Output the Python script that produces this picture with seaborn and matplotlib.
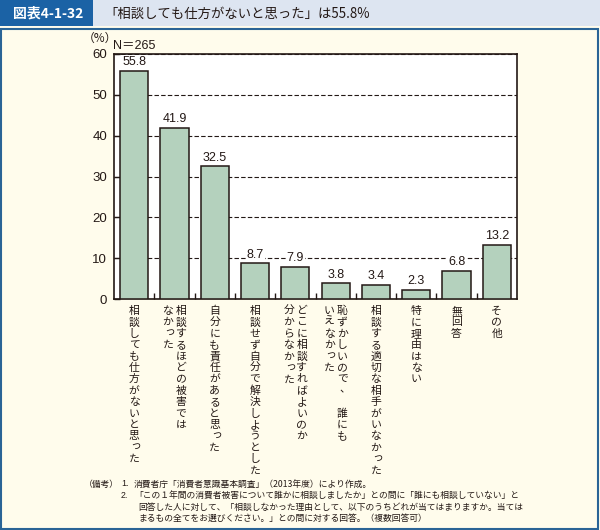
import matplotlib
matplotlib.use("Agg")
import matplotlib.pyplot as plt
import seaborn as sns
import pandas as pd
import numpy as np
from matplotlib.patches import Rectangle
from matplotlib import transforms

# ---- data ----
categories = [
    "相談しても仕方がないと思った",
    "相談するほどの被害では\nなかった",
    "自分にも責任があると思った",
    "相談せず自分で解決しようとした",
    "どこに相談すればよいのか\n分からなかった",
    "恥ずかしいので、　誰にも\nいえなかった",
    "相談する適切な相手がいなかった",
    "特に理由はない",
    "無回答",
    "その他",
]
values = [55.8, 41.9, 32.5, 8.7, 7.9, 3.8, 3.4, 2.3, 6.8, 13.2]
y_ticks = [0, 10, 20, 30, 40, 50, 60]
badge_text = "図表4-1-32"
title_text = "「相談しても仕方がないと思った」は55.8%"
n_text = "N＝265"
unit_text = "（%）"
note_head = "（備考）"
note_nums = ["1.", "2."]
note_lines = [
    "消費者庁「消費者意識基本調査」（2013年度）により作成。",
    "「この１年間の消費者被害について誰かに相談しましたか」との問に「誰にも相談していない」と",
    "回答した人に対して、「相談しなかった理由として、以下のうちどれが当てはまりますか。当ては",
    "まるもの全てをお選びください。」との問に対する回答。（複数回答可）",
]

# ---- style ----
sns.set_theme(style="white")
plt.rcParams['font.family'] = ['Liberation Sans', 'Noto Sans CJK JP', 'DejaVu Sans']
INK = '#231815'
CREAM = '#fffcec'
W, H = 600, 530

fig = plt.figure(figsize=(6, 5.3), dpi=100, facecolor=CREAM)

# header band + badge
fig.patches.append(Rectangle((0, 1 - 26 / H), 1, 26 / H, transform=fig.transFigure,
                             facecolor='#dde5f1', edgecolor='none', zorder=0))
fig.patches.append(Rectangle((0, 1 - 26 / H), 93 / W, 26 / H, transform=fig.transFigure,
                             facecolor='#1b62a5', edgecolor='none', zorder=1))
fig.patches.append(Rectangle((1 / W, 1.5 / H), 597 / W, (528 - 27) / H - 1 / H,
                             transform=fig.transFigure, facecolor='none',
                             edgecolor='#2a6496', lw=1.5, zorder=2))
fig.text(13 / W, 1 - 13.5 / H, badge_text, color='white', fontsize=10, fontweight='bold',
         ha='left', va='center', family=['Noto Sans CJK JP'])
fig.text(104 / W, 1 - 13.5 / H, title_text, color=INK, fontsize=9.6,
         ha='left', va='center', family=['Noto Sans CJK JP'])

# axes
ax = fig.add_axes([114 / W, 1 - 299 / H, 403 / W, 245 / H])
ax.set_facecolor('white')
df = pd.DataFrame({'cat': categories, 'val': values})
sns.barplot(data=df, x='cat', y='val', ax=ax, color='#b4d1bd', saturation=1,
            edgecolor=INK, linewidth=1.1, width=0.7, zorder=3)
ax.set_xlim(-0.5, len(categories) - 0.5)
ax.set_ylim(0, 60)
ax.set_yticks(y_ticks)
ax.set_xticks([])
ax.set_xticks(np.arange(len(categories) - 1) + 0.5, minor=True)
ax.set_xlabel('')
ax.set_ylabel('')
ax.tick_params(axis='x', which='minor', direction='in', length=4.5, width=1.0,
               color=INK, bottom=True, top=False)
ax.tick_params(axis='y', which='major', direction='in', length=4, width=1.0,
               color=INK, left=True, labelsize=9.5, labelcolor=INK, pad=5)
ax.yaxis.grid(True, linestyle=(0, (4, 2)), color=INK, lw=0.8)
ax.xaxis.grid(False)
ax.set_axisbelow(True)
for s in ax.spines.values():
    s.set_visible(True)
    s.set_color(INK)
    s.set_linewidth(1.2)

texts = ax.bar_label(ax.containers[0], labels=[f"{v:.1f}" for v in values], padding=2,
                     fontsize=9, color=INK)
for t in texts:
    t.set_bbox(dict(facecolor='white', edgecolor='none', pad=0.6))

# vertical category labels
small = set("っゃゅょぁぃぅぇぉ")
step = 11.4
for i, lab in enumerate(categories):
    cols = lab.split("\n")
    offs = [0.0] if len(cols) == 1 else [6.5, -6.5]
    for col, cx in zip(cols, offs):
        for j, ch in enumerate(col):
            if ch.isspace():
                continue
            dx, dy = cx, 12 + j * step
            if ch in small:
                dx += 1.5
                dy -= 1.5
            elif ch in "、。":
                dx += 3.0
                dy -= 1.5
            tr = transforms.offset_copy(ax.get_xaxis_transform(), fig=fig,
                                        x=dx, y=-dy, units='dots')
            ax.text(i, 0, ch, transform=tr, ha='center', va='center', fontsize=7.8,
                    color=INK, family=['Noto Sans CJK JP'], clip_on=False)

# unit and N
fig.text(100 / W, 1 - 38 / H, unit_text, fontsize=8.5, color=INK, ha='center', va='center',
         family=['Noto Sans CJK JP'])
fig.text(113 / W, 1 - 46 / H, n_text, fontsize=9, color=INK, ha='left', va='center',
         family=['Liberation Sans', 'Noto Sans CJK JP'])

# notes
fs = 6.3
fig.text(84 / W, 1 - 484 / H, note_head, fontsize=fs, color=INK, ha='left', va='center',
         family=['Noto Sans CJK JP'])
fig.text(121 / W, 1 - 484 / H, note_nums[0], fontsize=fs, color=INK, ha='left', va='center',
         family=['Liberation Sans'])
fig.text(121 / W, 1 - 495.5 / H, note_nums[1], fontsize=fs, color=INK, ha='left', va='center',
         family=['Liberation Sans'])
for k, (txt, yy) in enumerate(zip(note_lines, [484, 495.5, 507, 518.5])):
    x0 = 134 if k in (0, 1) else 138
    fig.text(x0 / W, 1 - yy / H, txt, fontsize=fs, color=INK, ha='left', va='center',
             family=['Noto Sans CJK JP'])

fig.savefig('out.png', dpi=100, facecolor=CREAM)
